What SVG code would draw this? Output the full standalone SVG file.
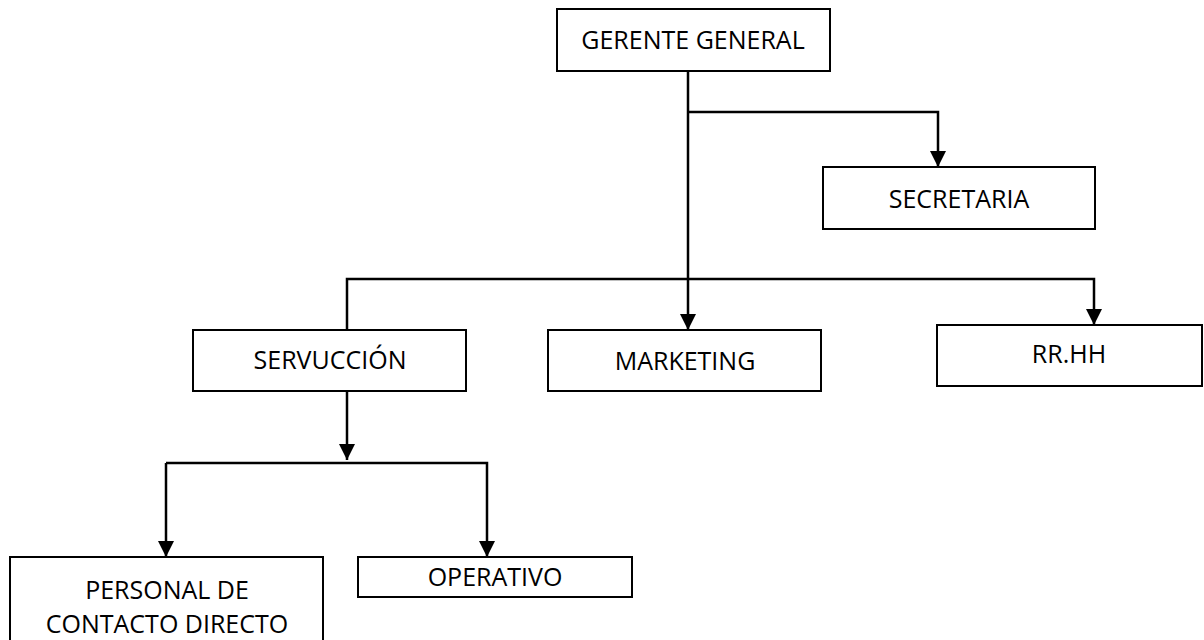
<svg xmlns="http://www.w3.org/2000/svg" width="1204" height="640" viewBox="0 0 1204 640">
<style>
.box{fill:#fff;stroke:#000;stroke-width:2}
.t{font-family:"Open Sans","Liberation Sans",sans-serif;font-size:25px;fill:#000;text-anchor:middle}
.c{fill:none;stroke:#000;stroke-width:2.5}
</style>
<defs>
<marker id="ah" markerUnits="userSpaceOnUse" markerWidth="16" markerHeight="18" viewBox="0 0 16 18" refX="16" refY="8" orient="auto">
<path d="M0,0 L16,8 L0,16 Z" fill="#000"/>
</marker>
</defs>
<rect width="1204" height="640" fill="#fff"/>
<g id="connectors">
<path class="c" d="M688,71 V330" marker-end="url(#ah)"/>
<path class="c" d="M688,112 H938 V167" marker-end="url(#ah)"/>
<path class="c" d="M347,330 V279 H1094 V325" marker-end="url(#ah)"/>
<path class="c" d="M347,391 V460" marker-end="url(#ah)"/>
<path class="c" d="M166,463 H487 V557" marker-end="url(#ah)"/>
<path class="c" d="M166,463 V557" marker-end="url(#ah)"/>
</g>
<g id="gerente">
<rect class="box" x="557" y="9" width="273" height="62"/>
<text class="t" x="693" y="49">GERENTE GENERAL</text>
</g>
<g id="secretaria">
<rect class="box" x="823" y="167" width="272" height="62"/>
<text class="t" x="959" y="208">SECRETARIA</text>
</g>
<g id="servuccion">
<rect class="box" x="193" y="330" width="273" height="61"/>
<text class="t" x="330" y="369">SERVUCCIÓN</text>
</g>
<g id="marketing">
<rect class="box" x="548" y="330" width="273" height="61"/>
<text class="t" x="685" y="370">MARKETING</text>
</g>
<g id="rrhh">
<rect class="box" x="937" y="325" width="265" height="61"/>
<text class="t" x="1069" y="363">RR.HH</text>
</g>
<g id="personal">
<rect class="box" x="10" y="557" width="313" height="90"/>
<text class="t" x="167" y="599">PERSONAL DE</text>
<text class="t" x="167" y="633">CONTACTO DIRECTO</text>
</g>
<g id="operativo">
<rect class="box" x="358" y="557" width="274" height="40"/>
<text class="t" x="495" y="586">OPERATIVO</text>
</g>
</svg>
